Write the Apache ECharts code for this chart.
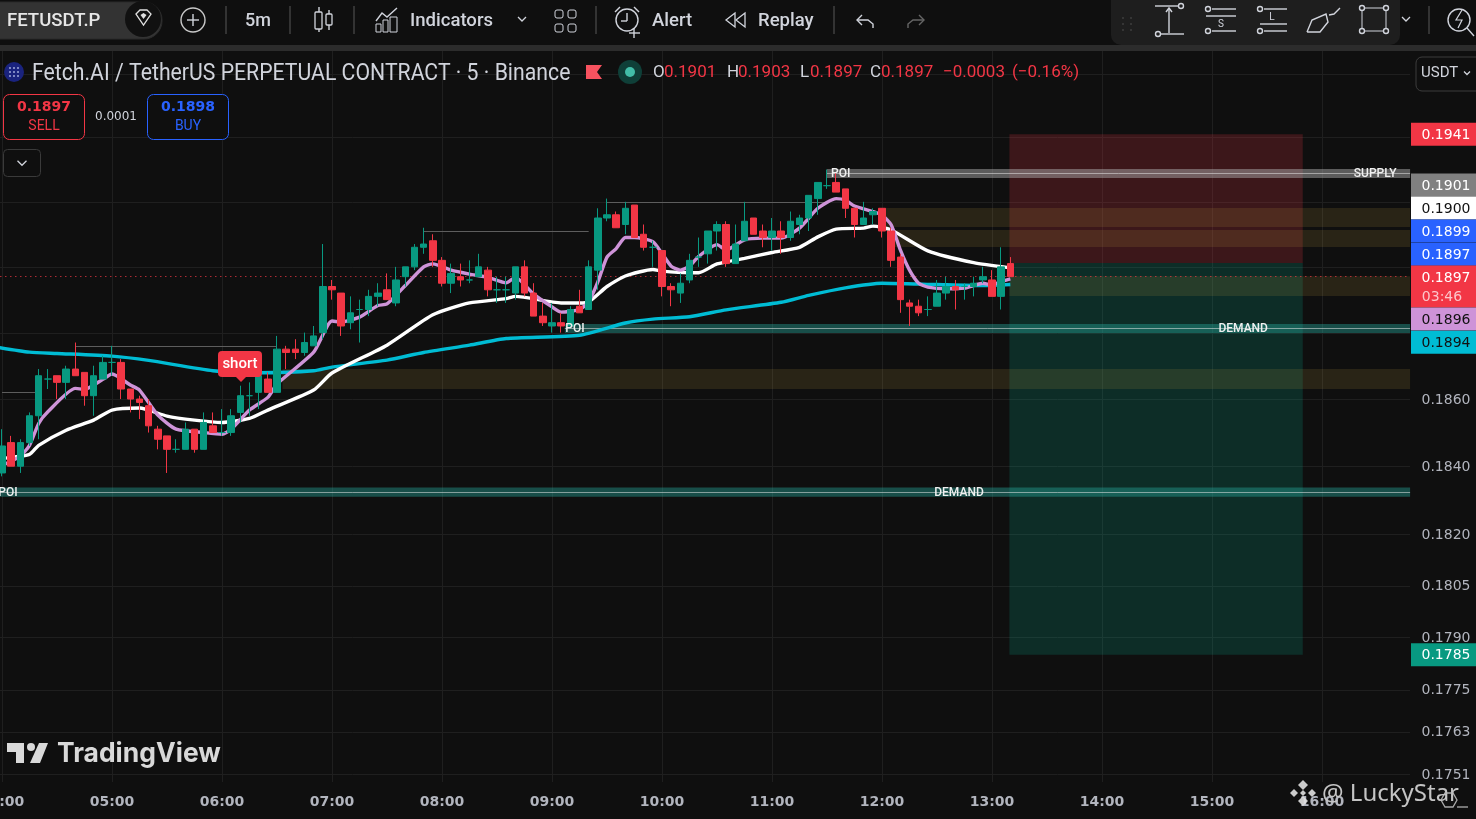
<!DOCTYPE html>
<html><head><meta charset="utf-8"><style>html,body{margin:0;padding:0;background:#0f0f0f;overflow:hidden}#c{width:1476px;height:819px}</style>
<script src="https://cdn.jsdelivr.net/npm/echarts@6/dist/echarts.min.js"></script></head><body><div id="c"></div><script>
// ---------- data ----------
const hoursStart = 4, slotCount = 154;
const categories = Array.from({length: slotCount}, (_, i) => {
  const m = i * 5; return String(hoursStart + Math.floor(m / 60)).padStart(2, '0') + ':' + String(m % 60).padStart(2, '0');
});
const opens = [.1838,.1847,.1840,.1847,.1855,.1866,.1867,.1865,.1869,.1868,.1861,.1866,.1871,.1871,.1863,.1860,.1858,.1851,.1849,.1845,.1845,.1851,.1845,.1852,.1850,.1850,.1856,.1861,.1862,.1866,.1862,.1875,.1875,.1874,.1876,.1880,.1894,.1892,.1883,.1887,.1887,.1891,.1893,.1889,.1897,.1900,.1906,.1908,.1902,.1895,.1897,.1896,.1897,.1899,.1893,.1893,.1892,.1900,.1892,.1885,.1882,.1883,.1882,.1888,.1887,.1899,.1915,.1916,.1913,.1919,.1910,.1906,.1905,.1894,.1892,.1896,.1903,.1904,.1911,.1913,.1901,.1908,.1915,.1911,.1909,.1911,.1909,.1913,.1915,.1921,.1925,.1926,.1924,.1918,.1913,.1916,.1918,.1911,.1903,.1889,.1888,.1887,.1888,.1892,.1894,.1894,.1894,.1896,.1896,.1891,.1901];
const closes = [.1846,.1840,.1847,.1855,.1867,.1866,.1865,.1869,.1867,.1861,.1867,.1871,.1871,.1863,.1860,.1859,.1852,.1848,.1845,.1845,.1851,.1845,.1853,.1850,.1850,.1855,.1861,.1861,.1867,.1862,.1875,.1874,.1874,.1877,.1879,.1894,.1893,.1882,.1886,.1887,.1891,.1892,.1890,.1896,.1900,.1906,.1907,.1902,.1895,.1898,.1896,.1896,.1900,.1893,.1893,.1893,.1900,.1892,.1885,.1883,.1883,.1882,.1887,.1886,.1900,.1915,.1916,.1912,.1918,.1909,.1906,.1906,.1894,.1893,.1895,.1902,.1903,.1911,.1913,.1901,.1907,.1914,.1910,.1909,.1911,.1909,.1914,.1915,.1922,.1926,.1925,.1923,.1918,.1913,.1915,.1917,.1911,.1902,.1890,.1888,.1886,.1887,.1892,.1894,.1893,.1894,.1895,.1897,.1891,.1900,.1897];
const highs = [.1851,.1849,.1848,.1856,.1869,.1869,.1867,.1870,.1877,.1868,.1870,.1873,.1876,.1872,.1863,.1861,.1860,.1852,.1849,.1848,.1853,.1851,.1856,.1856,.1857,.1857,.1864,.1865,.1867,.1868,.1879,.1876,.1878,.1880,.1882,.1907,.1896,.1892,.1891,.1890,.1893,.1895,.1898,.1900,.1900,.1907,.1912,.1910,.1903,.1901,.1901,.1902,.1904,.1900,.1897,.1897,.1900,.1902,.1895,.1889,.1889,.1886,.1888,.1893,.1902,.1918,.1921,.1917,.1920,.1919,.1913,.1908,.1905,.1895,.1898,.1904,.1909,.1911,.1914,.1914,.1913,.1920,.1915,.1913,.1915,.1914,.1917,.1916,.1922,.1926,.1930,.1929,.1924,.1918,.1920,.1918,.1918,.1912,.1904,.1890,.1890,.1891,.1896,.1897,.1896,.1895,.1897,.1900,.1899,.1906,.1903];
const lows = [.1837,.1840,.1838,.1846,.1848,.1863,.1860,.1860,.1867,.1858,.1855,.1866,.1867,.1860,.1856,.1854,.1850,.1845,.1838,.1844,.1845,.1844,.1845,.1850,.1849,.1849,.1853,.1855,.1857,.1862,.1862,.1869,.1872,.1873,.1876,.1878,.1890,.1879,.1881,.1877,.1885,.1888,.1890,.1888,.1894,.1899,.1904,.1900,.1894,.1892,.1894,.1895,.1897,.1891,.1889,.1889,.1890,.1891,.1885,.1882,.1880,.1880,.1882,.1886,.1887,.1893,.1914,.1912,.1910,.1909,.1905,.1900,.1891,.1888,.1889,.1895,.1900,.1901,.1905,.1900,.1901,.1908,.1910,.1906,.1905,.1904,.1908,.1910,.1911,.1916,.1924,.1923,.1915,.1909,.1913,.1913,.1909,.1900,.1886,.1882,.1885,.1885,.1888,.1890,.1887,.1890,.1891,.1895,.1891,.1887,.1897];
const purpleLine = [[0,.18402],[2,.1843],[3,.18462],[4,.18527],[5,.18562],[8,.18632],[9,.18629],[11,.18659],[12,.18675],[14,.18642],[15,.18627],[17,.18552],[19,.1851],[22,.185],[24,.18495],[25,.1851],[27,.18567],[29,.18605],[30,.18645],[34,.18741],[36,.18835],[37,.18832],[39,.18847],[41,.18882],[42,.18887],[44,.18943],[46,.19],[47,.19009],[49,.1899],[51,.18978],[53,.18968],[55,.18951],[56,.18968],[58,.18917],[60,.18878],[61,.18862],[63,.1887],[64,.18893],[65,.18954],[66,.1903],[67,.19056],[68,.1909],[69,.1909],[71,.19077],[72,.19041],[73,.19002],[74,.1899],[75,.19002],[76,.19032],[78,.19068],[79,.19052],[81,.19083],[83,.19088],[85,.19088],[87,.19119],[89,.1918],[91,.1921],[92,.19205],[93,.19187],[95,.1917],[96,.19159],[97,.19129],[98,.19052],[99,.1899],[100,.1895],[101,.18938],[103,.18933],[105,.18935],[107,.1895],[108,.18945],[109,.18955],[110,.18963]];
const whiteLine = [[0,.18423],[3,.18435],[4,.18462],[7,.18507],[10,.18537],[12,.18567],[15,.18573],[18,.18549],[21,.18537],[24,.1853],[27,.18542],[29,.18567],[34,.18627],[36,.18678],[42,.18762],[47,.18854],[51,.1889],[55,.18903],[56,.1891],[61,.1889],[63,.1889],[64,.18893],[66,.1894],[68,.18972],[71,.18992],[72,.18987],[75,.18982],[76,.18982],[78,.19009],[81,.19026],[84,.19044],[87,.1906],[89,.19092],[91,.19116],[94,.19119],[95,.19125],[97,.19113],[101,.19049],[106,.19013],[110,.18997]];
const cyanLine = [[-1,.18758],[3,.18741],[6,.18737],[12,.18729],[16,.18716],[23,.18685],[28,.18679],[34,.18685],[36,.18696],[42,.18717],[46,.1874],[51,.18762],[55,.18782],[63,.18792],[68,.18829],[71,.18841],[75,.18848],[79,.18869],[85,.18892],[88,.18913],[92,.18936],[96,.1895],[102,.18946],[107,.18943],[110,.18946]];
// zones: first slot, last slot, upper price, lower price
const zoneFrom = [109.9,109.9,96.3,97.2,109.9,30.6], zoneTo = [141.9,141.9,153.5,153.5,153.5,153.5];
const zoneTop = [.1941,.19012,.19181,.19113,.18971,.1869], zoneBottom = [.19012,.1785,.19122,.19061,.18911,.1863];
const bandFrom = [90,61.4,-0.5], bandTop = [.19302,.18826,.18337], bandMid = [.19289,.18813,.18323], bandBottom = [.19274,.18799,.18310];
const pivotFrom = [0,8,46,66], pivotTo = [4,30,64,90], pivotPrice = [.1862,.1876,.1911,.1920];
const noteText = ['POI','SUPPLY','POI','DEMAND','POI','DEMAND'], noteSlot = [91.5,149.8,62.5,135.4,0.65,104.4], notePrice = [.19289,.19289,.18813,.18813,.18323,.18323];
const gridPrices = [.1960,.1940,.1920,.1900,.1880,.1860,.1840,.1820,.1805,.1790,.1775,.1763,.1751];
const axisPrices = [.1860,.1840,.1820,.1805,.1790,.1775,.1763,.1751];
const hourLabels = categories.filter((c,i)=>i%12===0);
const currentPrice = .18972;
const tagText = ['0.1941','0.1901','0.1900','0.1899','0.1897','0.1897','0.1896','0.1894','0.1785'];
const tagAnchor = [.1941,.19252,.19181,.19110,.19039,.18969,.18841,.18771,.1785];

// ---------- chrome helpers ----------
const UI='Roboto, sans-serif', PX='"DejaVu Sans", sans-serif';
const Z=100;
const L=(x1,y1,x2,y2,c='#d1d4dc',w=1.4)=>({type:'line',shape:{x1,y1,x2,y2},style:{stroke:c,lineWidth:w},silent:true,z:Z});
const T=(text,x,y,font,fill='#d1d4dc',align='left',sx=1)=>({type:'text',x:x,y:y,scaleX:sx,style:{text,x:0,y:0,font,fill,textAlign:align,textVerticalAlign:'middle'},silent:true,z:Z+2});
const R=(x,y,width,height,fill,stroke,r=0,w=1)=>({type:'rect',shape:{x,y,width,height,r},style:{fill:fill||'transparent',stroke:stroke||null,lineWidth:w},silent:true,z:Z});
const C=(cx,cy,r,fill,stroke,w=1.4)=>({type:'circle',shape:{cx,cy,r},style:{fill:fill||'transparent',stroke:stroke||null,lineWidth:w},silent:true,z:Z+1});
const P=(points,c='#d1d4dc',w=1.4)=>({type:'polyline',shape:{points},style:{stroke:c,lineWidth:w,fill:'transparent'},silent:true,z:Z+1});
const G=(points,fill,stroke,o=1)=>({type:'polygon',shape:{points},style:{fill:fill||'transparent',stroke:stroke||null,lineWidth:1.3,opacity:o},silent:true,z:Z+3});
const chev=(x,y,s=4,c='#d1d4dc')=>P([[x-s,y-s/2],[x,y+s/2],[x+s,y-s/2]],c,1.3);
const diamond=(x,y,s,f,o)=>G([[x,y-s],[x+s,y],[x,y+s],[x-s,y]],f,null,o);
const chrome=[
 R(0,0,1476,45,'#0f0f0f'), R(0,45,1476,6,'#2c2c2c'),
 R(1111,0,289,45,'#1e1e1e',null,[0,0,10,10]),
 R(-20,2,182,37,'#333333','#2b2b2b',18), C(143,19,18,'#111'),
 T('FETUSDT.P',7,21,'500 18px '+UI,'#e6e6e6','left',1.03),
 G([[136,14],[140,10],[147,10],[151,14],[143.5,25]],null,'#e0e0e0'), G([[140.5,15],[143.5,13],[146.5,15],[143.5,19]],'#e0e0e0'),
 C(193,20,12,null,'#c8c8c8'), L(187,20,199,20), L(193,14,193,26),
 L(226,6,226,34,'#444'), T('5m',245,21,'500 18px '+UI), L(290,6,290,34,'#444'),
 L(319,7,319,32), R(315,12,7,17,'#0f0f0f','#d1d4dc',1,1.3), L(329,10,329,30), R(326,14,6,11,'#0f0f0f','#d1d4dc',1,1.3),
 L(354,6,354,34,'#444'),
 P([[376,21],[382,13],[387,17],[397,8]]), R(376,24,5,8,null,'#d1d4dc'), R(383,20,5,12,null,'#d1d4dc'), R(390,17,7,15,null,'#d1d4dc'),
 T('Indicators',410,21,'500 18px '+UI,'#d1d4dc','left',1.03), chev(522,19),
 R(555,10,8,8,null,'#d1d4dc',2), R(568,10,8,8,null,'#d1d4dc',2), R(555,24,8,8,null,'#d1d4dc',2), R(568,24,8,8,null,'#d1d4dc',2),
 L(596,6,596,34,'#444'),
 C(627,20,11,null,'#d1d4dc'), L(627,13,627,21), L(627,21,621,21), L(615,12,620,7), L(634,7,639,12), L(634,28,634,38), L(629,33,640,33),
 T('Alert',652,21,'500 18px '+UI,'#d1d4dc','left',1.03),
 G([[735,13],[726,20],[735,27]],null,'#d1d4dc'), G([[745,13],[736,20],[745,27]],null,'#d1d4dc'),
 T('Replay',758,21,'500 18px '+UI,'#d1d4dc','left',1.03), L(834,6,834,34,'#444'),
 P([[862,15],[857,20],[862,25]]), P([[857,20],[868,20],[873,24],[873,28]]),
 P([[919,15],[924,20],[919,25]],'#666'), P([[924,20],[913,20],[908,24],[908,28]],'#666'),
 C(1123,18,.8,'#555'),C(1131,18,.8,'#555'),C(1123,24,.8,'#555'),C(1131,24,.8,'#555'),C(1123,30,.8,'#555'),C(1131,30,.8,'#555'),
 L(1155,6,1179,6), C(1181,6,2.5,null,'#d1d4dc'), L(1169,9,1169,33), L(1160,34,1184,34), C(1158,34,2.5,null,'#d1d4dc'), P([[1166,12],[1169,8],[1172,12]]),
 C(1208,9,2.5,null,'#d1d4dc'), L(1212,9,1236,9), L(1206,16,1236,16), T('S',1221,24,'10px '+UI,'#d1d4dc','center'), C(1208,31,2.5,null,'#d1d4dc'), L(1212,31,1236,31),
 C(1260,9,2.5,null,'#d1d4dc'), L(1264,9,1287,9), T('L',1272,17,'10px '+UI,'#d1d4dc','center'), L(1260,24,1287,24), C(1260,31,2.5,null,'#d1d4dc'), L(1264,31,1287,31),
 P([[1307,32],[1312,20],[1326,14],[1328,22],[1320,32],[1307,32]]), P([[1329,15],[1334,14],[1340,8]]),
 R(1362,8,24,23,null,'#d1d4dc'), C(1362,8,2.5,'#1e1e1e','#d1d4dc'), C(1386,8,2.5,'#1e1e1e','#d1d4dc'), C(1362,31,2.5,'#1e1e1e','#d1d4dc'), C(1386,31,2.5,'#1e1e1e','#d1d4dc'),
 chev(1406,19), L(1429,6,1429,34,'#444'),
 C(1459,20,11,null,'#d1d4dc'), L(1467,28,1474,36), P([[1462,10],[1456,20],[1462,20],[1458,28]],'#d1d4dc',1.2),
 // legend row
 C(14,72,10,'#1a237e'), C(10,68,1,'#9fa8da'),C(14,68,1,'#9fa8da'),C(18,68,1,'#9fa8da'),C(10,72,1,'#9fa8da'),C(14,72,1,'#9fa8da'),C(18,72,1,'#9fa8da'),C(10,76,1,'#9fa8da'),C(14,76,1,'#9fa8da'),C(18,76,1,'#9fa8da'),
 T('Fetch.AI / TetherUS PERPETUAL CONTRACT · 5 · Binance',32,74,'23px '+UI,'#d1d4dc','left',.923),
 G([[586,65],[602,65],[597,72],[602,79],[586,79]],'#f7525f'),
 C(630,72,12,'#0f3f38'), C(630,72,5,'#42bda8'),
 T('O',653,73,'17px '+UI), T('0.1901',664,73,'17px '+UI,'#f23645'),
 T('H',727,73,'17px '+UI), T('0.1903',738,73,'17px '+UI,'#f23645'),
 T('L',800,73,'17px '+UI), T('0.1897',810,73,'17px '+UI,'#f23645'),
 T('C',870,73,'17px '+UI), T('0.1897',881,73,'17px '+UI,'#f23645'),
 T('−0.0003',943,73,'17px '+UI,'#f23645'), T('(−0.16%)',1012,73,'17px '+UI,'#f23645'),
 R(1416,57,70,34,'#0f0f0f','#3d3d3d',6), T('USDT',1421,73,'15px '+UI), chev(1467,73,3),
 // trade buttons
 R(3.5,94.5,81,45,'#0f0f0f','#f23645',6), T('0.1897',44,107,'bold 14px '+PX,'#f23645','center'), T('SELL',44,126,'14px '+UI,'#f23645','center'),
 T('0.0001',116,117,'12px '+PX,'#d1d4dc','center'),
 R(147.5,94.5,81,45,'#0f0f0f','#2962ff',6), T('0.1898',188,107,'bold 14px '+PX,'#2962ff','center'), T('BUY',188,126,'14px '+UI,'#2962ff','center'),
 R(3.5,149.5,37,27,'#0f0f0f','#3a3a3a',4), chev(22,163,4.5),
 // short flag
 R(218,351,44,26,'#f23645',null,4), G([[236,377],[246,377],[241,382]],'#f23645'), T('short',240,364,'500 15px '+UI,'#ffffff','center'),
 // TradingView logo
 G([[7,743],[24,743],[24,763],[16,763],[16,752],[7,752]],'#d9d9d9'), C(31,747,4,'#d9d9d9'), G([[39,743],[48,743],[40,763],[30,763]],'#d9d9d9'),
 T('TradingView',57,754,'700 27px Inter, sans-serif','#d9d9d9','left',.98),
 // watermark
 diamond(1303,785,5,'#e0e0e0',.9), diamond(1294,793,4,'#e0e0e0',.9), diamond(1312,793,4,'#e0e0e0',.9), diamond(1303,793,3,'#e0e0e0',.9), diamond(1303,801,5,'#e0e0e0',.9),
 T('@ LuckyStar',1322,794,'24px "Noto Sans", sans-serif','#c4c4c4'),
 G([[1441,800],[1445,793],[1453,793],[1457,800],[1453,807],[1445,807]],null,'#bbbbbb',.9), L(1457,807,1468,807,'#bbb',1.2)
];

// ---------- series helpers ----------
const rows = n => Array.from({length:n},(_,i)=>[i,.18]);
const seriesBase = {type:'custom',coordinateSystem:'cartesian2d',encode:{x:0,y:1},silent:true,animation:false};
const zoneColor = i => i===0?'rgba(242,54,69,0.2)':i===1?'rgba(8,153,129,0.22)':'rgba(178,148,60,0.16)';
const hourSlots = categories.map((c,i)=>i).filter(i=>i%12===0);
const vMin=.17488, vMax=.19675;
// ordinal coordinates round to whole slots, so fractional slot positions are placed between neighbours
const slotX=(api,v)=>{const f=Math.floor(v),a=api.coord([f,.18])[0],b=api.coord([f+1,.18])[0];return a+(v-f)*(b-a);};
const priceY=(api,p)=>api.coord([0,p])[1];

const option = {
  backgroundColor:'#0f0f0f', animation:false,
  grid:{left:-2.58,top:50,width:1411.67,height:732,outerBoundsMode:'none',containLabel:false},
  xAxis:{type:'category',data:categories,boundaryGap:true,axisLine:{show:false},axisTick:{show:false},splitLine:{show:false},
    axisLabel:{interval:(i,v)=>hourLabels.includes(v),margin:13,color:'#b2b5be',fontFamily:PX,fontSize:14,fontWeight:'bold',hideOverlap:false,showMinLabel:true}},
  yAxis:{type:'log',logBase:10,min:vMin,max:vMax,show:false,splitLine:{show:false},axisLine:{show:false}},
  graphic:{elements:chrome},
  series:[
    {...seriesBase,name:'grid-h',z:0,data:rows(gridPrices.length),renderItem:(p,api)=>{
      const y=priceY(api,gridPrices[p.dataIndex]);
      return {type:'line',shape:{x1:0,y1:Math.round(y)+.5,x2:1410,y2:Math.round(y)+.5},style:{stroke:'#1f1f1f',lineWidth:1}};}},
    {...seriesBase,name:'grid-v',z:0,data:rows(hourSlots.length),renderItem:(p,api)=>{
      const x=Math.round(slotX(api,hourSlots[p.dataIndex]))+.5;
      return {type:'line',shape:{x1:x,y1:priceY(api,vMax),x2:x,y2:priceY(api,vMin)},style:{stroke:'#1f1f1f',lineWidth:1}};}},
    {...seriesBase,name:'zones',z:1,data:rows(zoneTop.length),renderItem:(p,api)=>{
      const i=p.dataIndex,x0=slotX(api,zoneFrom[i]),x1=slotX(api,zoneTo[i])+(zoneTo[i]>150?1:0),y0=priceY(api,zoneTop[i]),y1=priceY(api,zoneBottom[i]);
      return {type:'rect',shape:{x:x0,y:y0,width:x1-x0,height:y1-y0},style:{fill:zoneColor(i)}};}},
    {...seriesBase,name:'pivots',z:1,data:rows(pivotPrice.length),renderItem:(p,api)=>{
      const i=p.dataIndex,y=Math.round(priceY(api,pivotPrice[i]))+.5;
      return {type:'line',shape:{x1:slotX(api,pivotFrom[i]),y1:y,x2:slotX(api,pivotTo[i]),y2:y},style:{stroke:'#5d5d5d',lineWidth:1}};}},
    {...seriesBase,name:'bands',z:2,data:rows(bandMid.length),renderItem:(p,api)=>{
      const i=p.dataIndex,x0=Math.max(slotX(api,bandFrom[i]),0),x1=slotX(api,153.5)+1,y0=priceY(api,bandTop[i]),y1=priceY(api,bandBottom[i]),m=priceY(api,bandMid[i]);
      const fill=i===0?'rgba(170,170,170,0.5)':'rgba(38,166,154,0.42)';
      return {type:'group',children:[
        {type:'rect',shape:{x:x0,y:y0,width:x1-x0,height:y1-y0},style:{fill}},
        {type:'line',shape:{x1:x0,y1:Math.round(m)+.5,x2:x1,y2:Math.round(m)+.5},style:{stroke:'rgba(225,225,225,0.55)',lineWidth:1}}]};}},
    {...seriesBase,name:'last-price',z:2,data:[[0,currentPrice]],renderItem:(p,api)=>{
      const y=Math.round(priceY(api,currentPrice))+.5;
      return {type:'line',shape:{x1:0,y1:y,x2:1410,y2:y},style:{stroke:'rgba(242,54,69,0.7)',lineWidth:1,lineDash:[1.5,3.5]}};}},
    {type:'line',name:'cyan',z:3,data:cyanLine,showSymbol:false,silent:true,smooth:.2,lineStyle:{color:'#00bcd4',width:3.4}},
    {type:'line',name:'white',z:3,data:whiteLine,showSymbol:false,silent:true,smooth:.2,lineStyle:{color:'#ffffff',width:3.4}},
    {type:'line',name:'purple',z:3,data:purpleLine,showSymbol:false,silent:true,smooth:.2,lineStyle:{color:'#ce93d8',width:3.4}},
    {type:'candlestick',name:'FETUSDT.P',z:4,barWidth:7,silent:true,
      data:opens.map((o,i)=>[o,closes[i],lows[i],highs[i]]),
      itemStyle:{color:'#089981',color0:'#f23645',borderColor:'#089981',borderColor0:'#f23645',borderColorDoji:'#089981',borderWidth:1}},
    {...seriesBase,name:'notes',z:5,data:rows(noteText.length),renderItem:(p,api)=>{
      const i=p.dataIndex;
      return {type:'text',style:{text:noteText[i],x:slotX(api,noteSlot[i]),y:priceY(api,notePrice[i])+1,textAlign:'center',textVerticalAlign:'middle',fill:'#f0f0f0',font:'500 12px '+UI}};}},
    {...seriesBase,name:'axis-labels',z:6,data:rows(axisPrices.length),renderItem:(p,api)=>{
      return {type:'text',style:{text:axisPrices[p.dataIndex].toFixed(4),x:1446,y:priceY(api,axisPrices[p.dataIndex])+1,textAlign:'center',textVerticalAlign:'middle',fill:'#b2b5be',font:'14px '+PX}};}},
    {...seriesBase,name:'price-tags',z:7,data:rows(tagText.length),renderItem:(p,api)=>{
      const i=p.dataIndex,y=priceY(api,tagAnchor[i]);
      const bg=['#f23645','#808080','#ffffff','#2962ff','#2962ff','#f23645','#ce93d8','#00bcd4','#089981'][i];
      const fg=(i===2||i===6||i===7)?'#111111':'#ffffff';
      const kids=[{type:'rect',shape:{x:1411,y:y-11.5,width:65,height:i===5?42:23},style:{fill:bg}},
        {type:'text',style:{text:tagText[i],x:1446,y:y+1,textAlign:'center',textVerticalAlign:'middle',fill:fg,font:'14px '+PX}}];
      if(i===5)kids.push({type:'text',style:{text:'03:46',x:1442,y:y+20,textAlign:'center',textVerticalAlign:'middle',fill:'#fcc5ca',font:'14px '+PX}});
      return {type:'group',children:kids};}}
  ]
};
const chart=echarts.init(document.getElementById('c'),null,{renderer:'canvas',width:1476,height:819});
chart.setOption(option);
</script></body></html>
